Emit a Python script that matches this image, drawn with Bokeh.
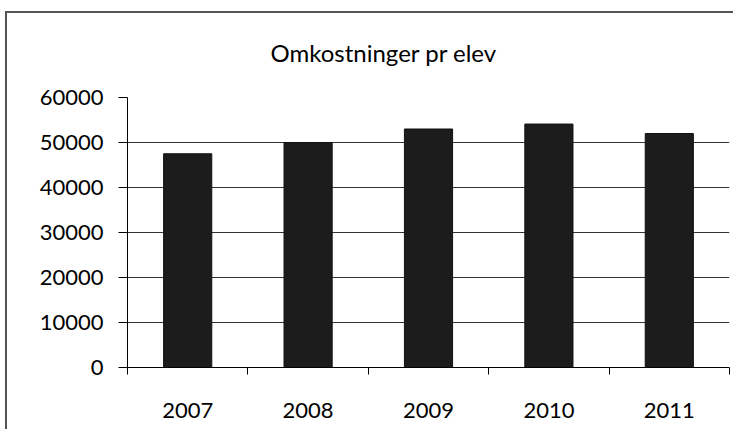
from bokeh.plotting import figure
from bokeh.models import Range1d, FixedTicker, NumeralTickFormatter
from bokeh.embed import file_html
from bokeh.resources import INLINE

years = ["2007", "2008", "2009", "2010", "2011"]
costs = [47500, 50000, 53000, 54100, 52000]
y_ticks = [0, 10000, 20000, 30000, 40000, 50000, 60000]
title_text = "Omkostninger pr elev"

xs = [i + 0.5 for i in range(len(years))]

frame_styles = {
    "background-color": "white",
    "background-image": "linear-gradient(#555555, #555555), linear-gradient(#555555, #555555)",
    "background-size": "2px 100%, 100% 2px",
    "background-position": "5px 11px, 5px 11px",
    "background-repeat": "no-repeat",
}

p = figure(width=733, height=429, output_backend="svg", toolbar_location=None,
           x_range=Range1d(0, len(years)), y_range=Range1d(0, 60000),
           min_border_left=127, min_border_right=4, min_border_top=97,
           min_border_bottom=62, title=title_text, styles=frame_styles)

p.title.text_font = "Lato"
p.title.text_font_size = "24px"
p.title.text_font_style = "normal"
p.title.text_color = "black"
p.title.align = "left"
p.title.offset = 143
p.title.standoff = 61

p.outline_line_color = None
p.background_fill_color = "white"
p.border_fill_color = None

p.vbar(x=xs, top=costs, width=0.4, bottom=0, fill_color="#1c1c1c", line_color="#111111")

# x axis
p.xaxis.ticker = FixedTicker(ticks=xs, minor_ticks=list(range(len(years) + 1)))
p.xaxis.major_label_overrides = {x: y for x, y in zip(xs, years)}
p.xaxis.major_tick_out = 0
p.xaxis.major_tick_in = 0
p.xaxis.minor_tick_out = 7
p.xaxis.minor_tick_in = 0
p.xaxis.minor_tick_line_color = "black"
p.xaxis.axis_line_color = "black"
p.xaxis.major_label_standoff = 28
p.xaxis.major_label_text_font = "Lato"
p.xaxis.major_label_text_font_size = "22px"
p.xaxis.major_label_text_color = "black"
p.xgrid.grid_line_color = None

# y axis
p.yaxis.ticker = FixedTicker(ticks=y_ticks)
p.yaxis.formatter = NumeralTickFormatter(format="0")
p.yaxis.major_tick_out = 9
p.yaxis.major_tick_in = 0
p.yaxis.minor_tick_line_color = None
p.yaxis.major_tick_line_color = "black"
p.yaxis.axis_line_color = "black"
p.yaxis.major_label_standoff = 15
p.yaxis.major_label_text_font = "Lato"
p.yaxis.major_label_text_font_size = "22px"
p.yaxis.major_label_text_color = "black"
p.ygrid.grid_line_color = "#333333"
p.ygrid.grid_line_width = 1

open("out.html", "w").write(file_html(p, INLINE))
